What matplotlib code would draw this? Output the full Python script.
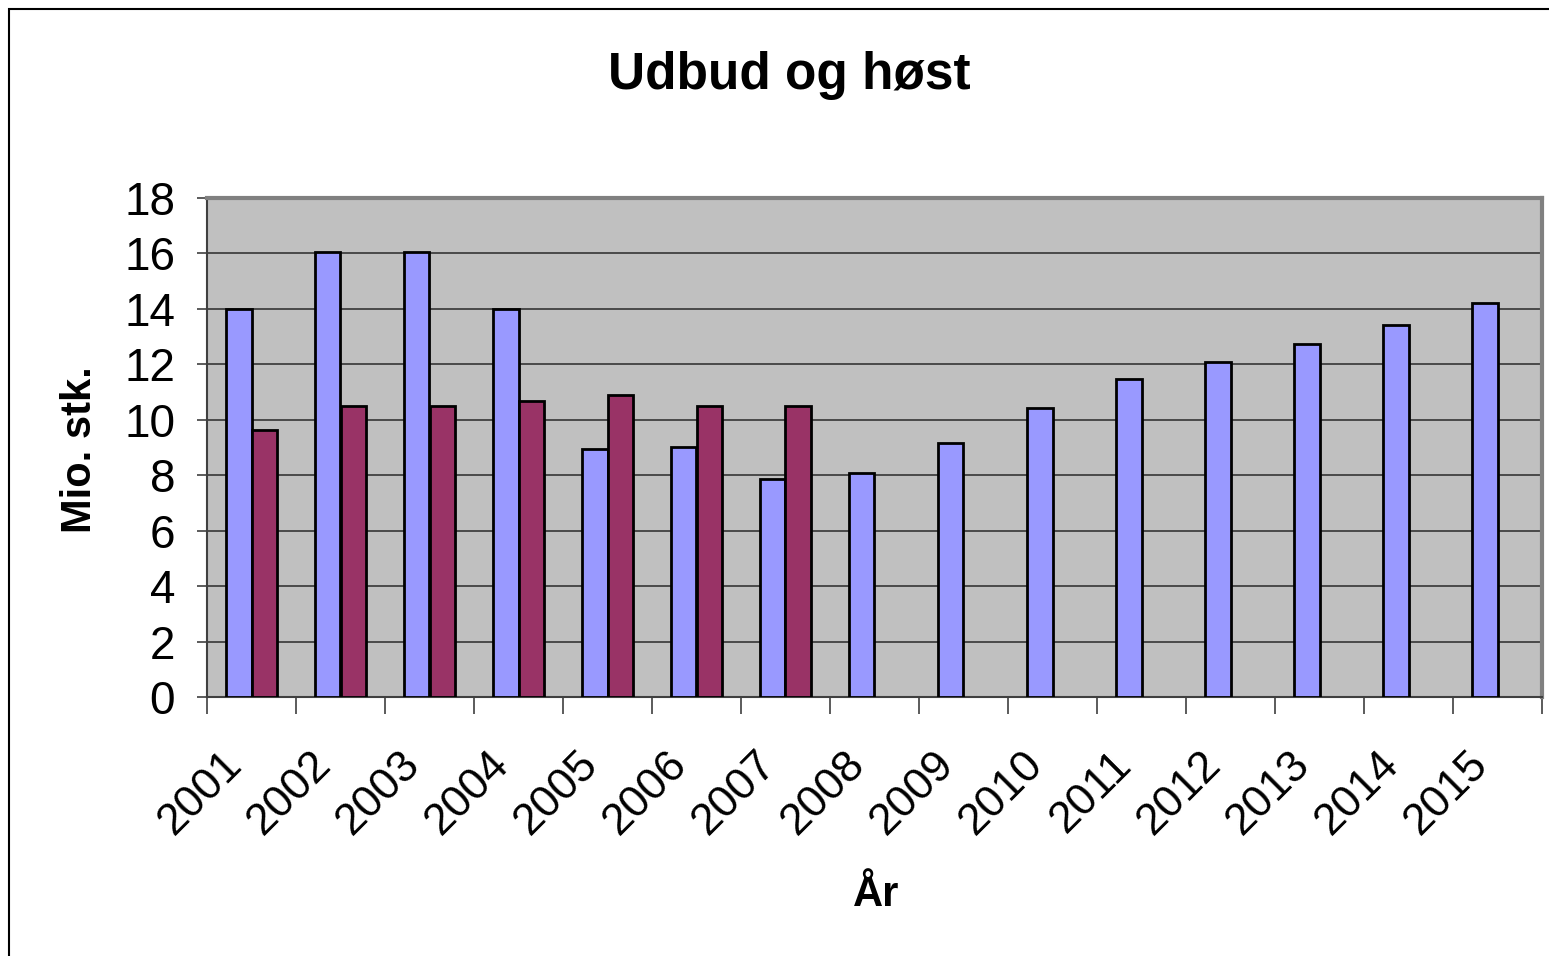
import numpy as np
import matplotlib.pyplot as plt
import matplotlib.transforms as mtrans
from matplotlib.patches import Rectangle

plt.rcParams['font.family'] = ['Liberation Sans', 'DejaVu Sans']

years = ['2001', '2002', '2003', '2004', '2005', '2006', '2007', '2008',
         '2009', '2010', '2011', '2012', '2013', '2014', '2015']
udbud = [14.0, 16.05, 16.05, 14.0, 8.95, 9.02, 7.86, 8.08,
         9.16, 10.43, 11.47, 12.08, 12.73, 13.42, 14.21]
host = [9.63, 10.5, 10.5, 10.68, 10.9, 10.5, 10.5]

fig = plt.figure(figsize=(15.49, 9.56), dpi=100)
ax = fig.add_axes([207/1549, 1 - 697/956, (1542-207)/1549, (697-198)/956])

# outer chart border
fig.patches.append(Rectangle((9/1549, -0.05), 1.2, 0.05 + 1 - 9/956, transform=fig.transFigure,
                             fill=False, edgecolor='black', linewidth=1.5))

x = np.arange(len(years))
w = 1 / 3.5
ax.bar(x - w/2, udbud, width=w, color='#9999FF', edgecolor='black', linewidth=2, zorder=3)
ax.bar(x[:len(host)] + w/2, host, width=w, color='#993366', edgecolor='black', linewidth=2, zorder=3)

ax.set_facecolor('#C0C0C0')
ax.set_xlim(-0.5, len(years) - 0.5)
ax.set_ylim(0, 18)
ax.set_yticks(range(0, 19, 2))
ax.yaxis.grid(True, color='#404040', linewidth=1.3, zorder=1)
ax.set_axisbelow(True)

ax.set_xticks(x)
ax.set_xticklabels(years, rotation=45, ha='right', va='center', rotation_mode='anchor', fontsize=32)
ax.tick_params(axis='x', length=0, pad=44)
shift = mtrans.ScaledTranslation(-16/100, 0, fig.dpi_scale_trans)
for lbl in ax.get_xticklabels():
    lbl.set_transform(lbl.get_transform() + shift)
ax.set_xticks(np.arange(-0.5, len(years)), minor=True)
ax.tick_params(axis='x', which='minor', length=12, width=1.2, color='#404040')
ax.tick_params(axis='y', labelsize=33, length=7, width=1.2, color='#404040', pad=16)

for s in ['left', 'bottom']:
    ax.spines[s].set_color('#404040')
    ax.spines[s].set_linewidth(1.5)
for s in ['top', 'right']:
    ax.spines[s].set_color('#808080')
    ax.spines[s].set_linewidth(3)

ax.set_ylabel('Mio. stk.', fontsize=30, fontweight='bold')
ax.yaxis.set_label_coords((100-207)/1335, 0.495)
ax.set_xlabel('År', fontsize=30, fontweight='bold')
ax.xaxis.set_label_coords((876-207)/1335, (697-875)/499)
fig.text(789/1549, 1 - 76/956, 'Udbud og høst', ha='center', va='center',
         fontsize=37, fontweight='bold')

fig.savefig('out.png', dpi=100)
